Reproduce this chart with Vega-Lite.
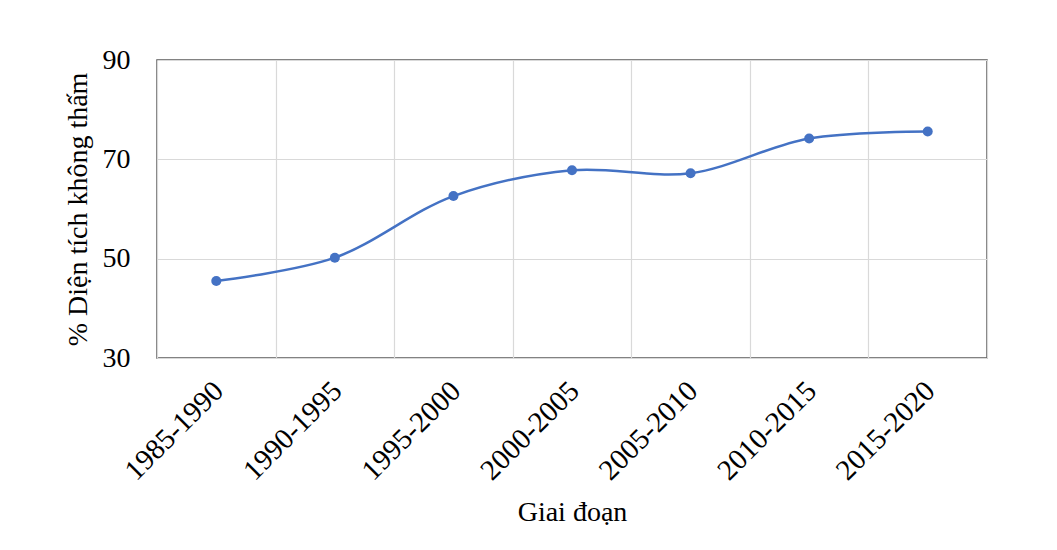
{
  "$schema": "https://vega.github.io/schema/vega-lite/v6.json",
  "autosize": "none",
  "width": 830,
  "height": 298,
  "padding": {"left": 157, "top": 60, "right": 70, "bottom": 192},
  "background": "#ffffff",
  "config": {
    "font": "Liberation Serif",
    "view": {"stroke": "#595959", "strokeWidth": 1.5},
    "axis": {
      "labelFont": "Liberation Serif",
      "titleFont": "Liberation Serif",
      "labelColor": "#000000",
      "titleColor": "#000000",
      "titleFontWeight": "normal",
      "gridColor": "#d9d9d9",
      "gridWidth": 1.2,
      "ticks": false,
      "domain": false
    }
  },
  "data": {
    "values": [
      {"giai_doan": "1985-1990", "pct": 45.5},
      {"giai_doan": "1990-1995", "pct": 50.2},
      {"giai_doan": "1995-2000", "pct": 62.6},
      {"giai_doan": "2000-2005", "pct": 67.8},
      {"giai_doan": "2005-2010", "pct": 67.2},
      {"giai_doan": "2010-2015", "pct": 74.2},
      {"giai_doan": "2015-2020", "pct": 75.6}
    ]
  },
  "encoding": {
    "x": {
      "field": "giai_doan",
      "type": "ordinal",
      "sort": null,
      "scale": {"type": "band", "paddingInner": 0, "paddingOuter": 0},
      "axis": {
        "title": "Giai đoạn",
        "titleFontSize": 28,
        "titlePadding": 13,
        "labelFontSize": 29,
        "labelAngle": -45,
        "labelPadding": 18,
        "labelOffset": -8,
        "tickBand": "extent",
        "grid": true
      }
    },
    "y": {
      "field": "pct",
      "type": "quantitative",
      "scale": {"domain": [30, 90], "nice": false, "zero": false},
      "axis": {
        "title": "% Diện tích không thấm",
        "titleFontSize": 28,
        "titlePadding": 10,
        "labelFontSize": 28,
        "labelPadding": 27,
        "values": [30, 50, 70, 90],
        "grid": true
      }
    }
  },
  "layer": [
    {
      "mark": {"type": "line", "interpolate": "catmull-rom", "color": "#4472c4", "strokeWidth": 2.5}
    },
    {
      "mark": {"type": "point", "filled": true, "opacity": 1, "color": "#4472c4", "size": 100}
    }
  ]
}
